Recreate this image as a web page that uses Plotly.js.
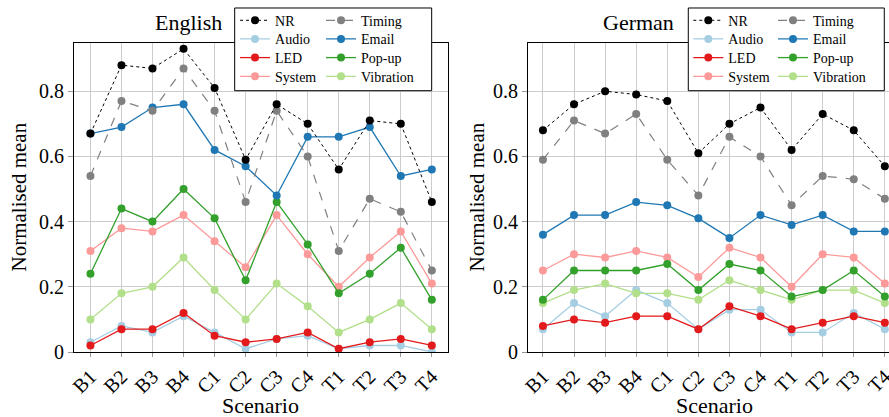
<!DOCTYPE html>
<html>
<head>
<meta charset="utf-8">
<script src="https://cdn.plot.ly/plotly-3.0.1.min.js"></script>
<style>
html,body{margin:0;padding:0;overflow:hidden;background:#fff;}
#chart{position:absolute;left:0;top:0;width:905px;height:417px;}
</style>
</head>
<body>
<div id="chart"></div>
<script>
const scenarios = ["B1","B2","B3","B4","C1","C2","C3","C4","T1","T2","T3","T4"];

// English panel
const enNR        = [0.67,0.88,0.87,0.93,0.81,0.59,0.76,0.70,0.56,0.71,0.70,0.46];
const enTiming    = [0.54,0.77,0.74,0.87,0.74,0.46,0.74,0.60,0.31,0.47,0.43,0.25];
const enAudio     = [0.03,0.08,0.06,0.11,0.06,0.01,0.04,0.05,0.01,0.02,0.02,0.00];
const enEmail     = [0.67,0.69,0.75,0.76,0.62,0.57,0.48,0.66,0.66,0.69,0.54,0.56];
const enLED       = [0.02,0.07,0.07,0.12,0.05,0.03,0.04,0.06,0.01,0.03,0.04,0.02];
const enPopup     = [0.24,0.44,0.40,0.50,0.41,0.22,0.46,0.33,0.18,0.24,0.32,0.16];
const enSystem    = [0.31,0.38,0.37,0.42,0.34,0.26,0.42,0.30,0.20,0.29,0.37,0.21];
const enVibration = [0.10,0.18,0.20,0.29,0.19,0.10,0.21,0.14,0.06,0.10,0.15,0.07];

// German panel
const deNR        = [0.68,0.76,0.80,0.79,0.77,0.61,0.70,0.75,0.62,0.73,0.68,0.57];
const deTiming    = [0.59,0.71,0.67,0.73,0.59,0.48,0.66,0.60,0.45,0.54,0.53,0.47];
const deAudio     = [0.07,0.15,0.11,0.19,0.15,0.07,0.13,0.13,0.06,0.06,0.12,0.07];
const deEmail     = [0.36,0.42,0.42,0.46,0.45,0.41,0.35,0.42,0.39,0.42,0.37,0.37];
const deLED       = [0.08,0.10,0.09,0.11,0.11,0.07,0.14,0.11,0.07,0.09,0.11,0.09];
const dePopup     = [0.16,0.25,0.25,0.25,0.27,0.19,0.27,0.25,0.17,0.19,0.25,0.17];
const deSystem    = [0.25,0.30,0.29,0.31,0.29,0.23,0.32,0.29,0.20,0.30,0.29,0.21];
const deVibration = [0.15,0.19,0.21,0.18,0.18,0.16,0.22,0.19,0.16,0.19,0.19,0.15];

const yTicks = [0,0.2,0.4,0.6,0.8];
const yTickText = ["0","0.2","0.4","0.6","0.8"];

const FONT = "'Liberation Serif', 'DejaVu Serif', serif";

const seriesDefs = [
  {name:"NR",        color:"#000000", dash:"dot",  width:1.0},
  {name:"Timing",    color:"#808080", dash:"dash", width:1.2},
  {name:"Audio",     color:"#a6cee3", dash:"solid",width:1.3},
  {name:"Email",     color:"#1f78b4", dash:"solid",width:1.3},
  {name:"LED",       color:"#e31a1c", dash:"solid",width:1.3},
  {name:"Pop-up",    color:"#33a02c", dash:"solid",width:1.3},
  {name:"System",    color:"#fb9a99", dash:"solid",width:1.3},
  {name:"Vibration", color:"#b2df8a", dash:"solid",width:1.3}
];
const enData = [enNR,enTiming,enAudio,enEmail,enLED,enPopup,enSystem,enVibration];
const deData = [deNR,deTiming,deAudio,deEmail,deLED,dePopup,deSystem,deVibration];

function legId(n){ return n === 1 ? "legend" : "legend" + n; }

const traces = [];
const drawOrder = [2,4,6,7,5,3,1,0];
drawOrder.forEach(i => {
  const s = seriesDefs[i];
  traces.push({
    x: scenarios, y: enData[i], name: s.name, type: "scatter", mode: "lines+markers",
    line: {color: s.color, dash: s.dash, width: s.width},
    marker: {color: s.color, size: 8},
    xaxis: "x", yaxis: "y", legend: legId(i + 1), hoverinfo: "skip"
  });
  traces.push({
    x: scenarios, y: deData[i], name: s.name, type: "scatter", mode: "lines+markers",
    line: {color: s.color, dash: s.dash, width: s.width},
    marker: {color: s.color, size: 8},
    xaxis: "x2", yaxis: "y2", legend: legId(i + 9), hoverinfo: "skip"
  });
});

const xBase = {
  type: "category", showgrid: true, gridcolor: "#cccccc", gridwidth: 1,
  showline: true, linecolor: "#000", linewidth: 1, mirror: true,
  ticks: "outside", ticklen: 4, tickcolor: "#999",
  tickangle: -45, tickfont: {family: FONT, size: 20, color: "#000"},
  zeroline: false, fixedrange: true, automargin: false
};
const yBase = {
  range: [0, 0.948], tickvals: yTicks, ticktext: yTickText,
  showgrid: true, gridcolor: "#cccccc", gridwidth: 1,
  showline: true, linecolor: "#000", linewidth: 1, mirror: true,
  ticks: "outside", ticklen: 5, tickcolor: "#999",
  tickfont: {family: FONT, size: 20, color: "#000"},
  zeroline: false, fixedrange: true, automargin: false
};

const layout = {
  width: 905, height: 417,
  margin: {l: 74, r: 4, t: 43, b: 65, autoexpand: false},
  paper_bgcolor: "#fff", plot_bgcolor: "#fff",
  font: {family: FONT, color: "#000"},
  xaxis: Object.assign({}, xBase, {domain: [0, 0.4522], range: [-0.53, 11.52], anchor: "y"}),
  yaxis: Object.assign({}, yBase, {anchor: "x"}),
  xaxis2: Object.assign({}, xBase, {domain: [0.549, 1], range: [-0.48, 11.52], anchor: "y2"}),
  yaxis2: Object.assign({}, yBase, {anchor: "x2"}),
  shapes: [
    {type: "rect", xref: "paper", yref: "paper", x0: 0.1943, x1: 0.4325, y0: 0.8456, y1: 1.1133,
     line: {color: "#000", width: 1}, fillcolor: "#fff", layer: "above"},
    {type: "rect", xref: "paper", yref: "paper", x0: 0.7428, x1: 0.9798, y0: 0.8456, y1: 1.1133,
     line: {color: "#000", width: 1}, fillcolor: "#fff", layer: "above"}
  ],
  annotations: [
    {text: "English", xref: "paper", yref: "paper", x: 0.139, y: 1.065, xanchor: "center", yanchor: "middle",
     showarrow: false, font: {family: FONT, size: 22, color: "#000"}},
    {text: "German", xref: "paper", yref: "paper", x: 0.6826, y: 1.065, xanchor: "center", yanchor: "middle",
     showarrow: false, font: {family: FONT, size: 22, color: "#000"}},
    {text: "Scenario", xref: "paper", yref: "paper", x: 0.2261, y: -0.172, xanchor: "center", yanchor: "middle",
     showarrow: false, font: {family: FONT, size: 22, color: "#000"}},
    {text: "Scenario", xref: "paper", yref: "paper", x: 0.7739, y: -0.172, xanchor: "center", yanchor: "middle",
     showarrow: false, font: {family: FONT, size: 22, color: "#000"}},
    {text: "Normalised mean", xref: "paper", yref: "paper", x: -0.0677, y: 0.5, xanchor: "center", yanchor: "middle",
     textangle: -90, showarrow: false, font: {family: FONT, size: 21, color: "#000"}},
    {text: "Normalised mean", xref: "paper", yref: "paper", x: 0.4861, y: 0.5, xanchor: "center", yanchor: "middle",
     textangle: -90, showarrow: false, font: {family: FONT, size: 21, color: "#000"}}
  ],
  showlegend: true
};

// legend positions: one entry per legend (2 columns x 4 rows per panel)
const rowY = [1.0722, 1.0120, 0.9515, 0.8910];
const colXLeft = [0.1947, 0.2987];
const colXRight = [0.7428, 0.8452];
for (let i = 0; i < 8; i++) {
  const row = Math.floor(i / 2), col = i % 2;
  const base = {
    bgcolor: "rgba(0,0,0,0)", borderwidth: 0, yanchor: "middle", xanchor: "left",
    font: {family: FONT, size: 14, color: "#000"}, orientation: "v",
    itemclick: false, itemdoubleclick: false
  };
  layout[legId(i + 1)] = Object.assign({}, base, {x: colXLeft[col], y: rowY[row]});
  layout[legId(i + 9)] = Object.assign({}, base, {x: colXRight[col], y: rowY[row]});
}

Plotly.newPlot("chart", traces, layout, {displayModeBar: false, staticPlot: true});
</script>
</body>
</html>
